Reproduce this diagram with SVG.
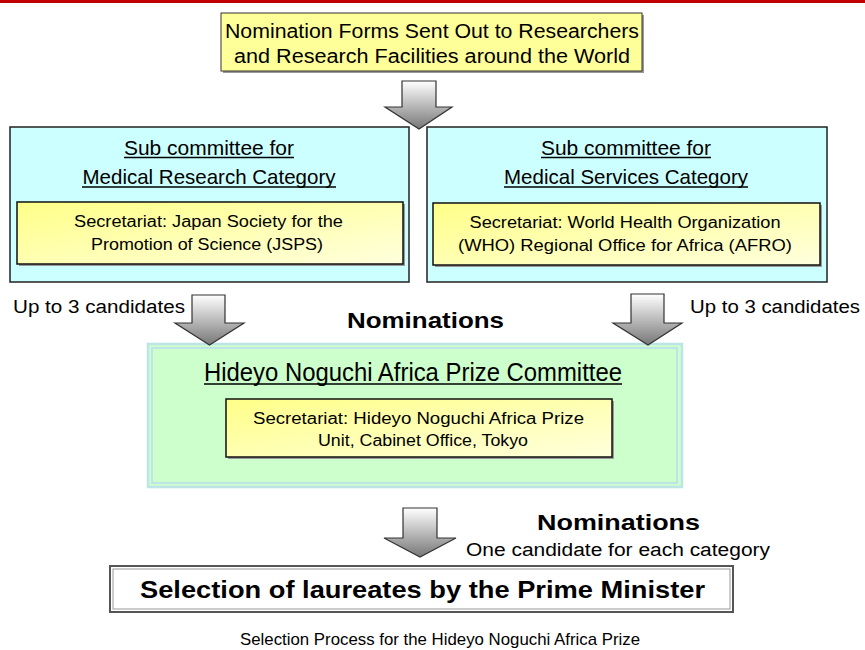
<svg xmlns="http://www.w3.org/2000/svg" width="865" height="650" viewBox="0 0 865 650">
<defs>
<linearGradient id="arrowGrad" x1="0" y1="0" x2="0" y2="1">
<stop offset="0" stop-color="#ffffff"/>
<stop offset="1" stop-color="#777777"/>
</linearGradient>
<linearGradient id="yelGrad" x1="0" y1="0" x2="1" y2="1">
<stop offset="0" stop-color="#ffff88"/>
<stop offset="1" stop-color="#ffffdd"/>
</linearGradient>
<style>
.arrow{fill:url(#arrowGrad);stroke:#333;stroke-width:1.2;stroke-linejoin:miter}
.sub{fill:#ccffff;stroke:#222;stroke-width:1.5}
.sec{fill:url(#yelGrad);stroke:#111;stroke-width:1.5}
.shadow{fill:#999}
.narrow{font-family:"Liberation Sans Narrow","Liberation Sans",Arial,sans-serif;fill:#000}
.reg{font-family:"Liberation Sans",Arial,sans-serif;fill:#000}
.bold{font-family:"Liberation Sans",Arial,sans-serif;font-weight:bold;fill:#000}
.ul{stroke:#000;stroke-width:1.3}
</style>
</defs>
<rect x="0" y="0" width="865" height="3" fill="#c00000"/>

<g id="top">
<rect x="223" y="15" width="421" height="58" class="shadow"/>
<rect x="221" y="13" width="421" height="58" fill="#ffff99" stroke="#333" stroke-width="1"/>
<text class="narrow" x="432" y="38" font-size="19.5" text-anchor="middle" textLength="414" lengthAdjust="spacingAndGlyphs">Nomination Forms Sent Out to Researchers</text>
<text class="narrow" x="432" y="63" font-size="19.5" text-anchor="middle" textLength="396" lengthAdjust="spacingAndGlyphs">and Research Facilities around the World</text>
</g>

<g id="sub-research">
<rect x="10" y="127" width="399" height="155" class="sub"/>
<text class="narrow" x="209" y="155" font-size="21" text-anchor="middle" textLength="170" lengthAdjust="spacingAndGlyphs">Sub committee  for</text>
<line x1="124" y1="157.5" x2="294" y2="157.5" class="ul"/>
<text class="narrow" x="209" y="184" font-size="21" text-anchor="middle" textLength="253" lengthAdjust="spacingAndGlyphs">Medical Research  Category</text>
<line x1="82" y1="187" x2="336" y2="187" class="ul"/>
<rect x="19" y="204" width="386" height="62" class="shadow"/>
<rect x="17" y="202" width="386" height="62" class="sec"/>
<text class="reg" x="208.5" y="227" font-size="16" text-anchor="middle" textLength="269" lengthAdjust="spacingAndGlyphs">Secretariat: Japan Society for the</text>
<text class="reg" x="207" y="250" font-size="16" text-anchor="middle" textLength="232" lengthAdjust="spacingAndGlyphs">Promotion  of Science (JSPS)</text>
</g>

<g id="sub-services">
<rect x="427" y="127" width="400" height="155" class="sub"/>
<text class="narrow" x="626" y="155" font-size="21" text-anchor="middle" textLength="170" lengthAdjust="spacingAndGlyphs">Sub committee  for</text>
<line x1="541" y1="157.5" x2="711" y2="157.5" class="ul"/>
<text class="narrow" x="626" y="184" font-size="21" text-anchor="middle" textLength="244" lengthAdjust="spacingAndGlyphs">Medical Services  Category</text>
<line x1="504" y1="187" x2="748" y2="187" class="ul"/>
<rect x="435" y="205" width="387" height="62" class="shadow"/>
<rect x="433" y="203" width="387" height="62" class="sec"/>
<text class="reg" x="625" y="228" font-size="16" text-anchor="middle" textLength="311" lengthAdjust="spacingAndGlyphs">Secretariat: World Health Organization</text>
<text class="reg" x="625" y="251" font-size="16" text-anchor="middle" textLength="334" lengthAdjust="spacingAndGlyphs">(WHO) Regional Office for Africa (AFRO)</text>
</g>

<g id="committee">
<rect x="148" y="344" width="534" height="143" fill="#ccffcc" stroke="#bfe4e8" stroke-width="2.5"/>
<rect x="152" y="348" width="525" height="135" fill="none" stroke="#bfe4e8" stroke-width="2"/>
<text class="narrow" x="413" y="381" font-size="26" text-anchor="middle" textLength="418" lengthAdjust="spacingAndGlyphs">Hideyo Noguchi Africa Prize Committee</text>
<line x1="204" y1="384" x2="622" y2="384" class="ul"/>
<rect x="228" y="401" width="386" height="58" class="shadow"/>
<rect x="226" y="399" width="386" height="58" class="sec"/>
<text class="reg" x="418.5" y="424" font-size="16" text-anchor="middle" textLength="331" lengthAdjust="spacingAndGlyphs">Secretariat: Hideyo Noguchi Africa Prize</text>
<text class="reg" x="423" y="446" font-size="16" text-anchor="middle" textLength="210" lengthAdjust="spacingAndGlyphs">Unit, Cabinet Office, Tokyo</text>
</g>

<g id="laureates">
<rect x="110" y="566" width="623" height="46" fill="#ffffff" stroke="#555" stroke-width="2"/>
<rect x="113" y="569" width="617" height="40" fill="none" stroke="#999" stroke-width="1"/>
<text class="bold" x="422.5" y="598" font-size="24" text-anchor="middle" textLength="565" lengthAdjust="spacingAndGlyphs">Selection of laureates by the Prime Minister</text>
</g>

<g id="connectors">
<path class="arrow" d="M402,81 L436,81 L436,107 L452,107 L419,129 L385,107 L402,107 Z"/>
<path class="arrow" d="M192,295 L225,295 L225,323 L244,323 L209.5,345 L175,323 L192,323 Z"/>
<path class="arrow" d="M631,294 L664,294 L664,323 L682,323 L648,345 L613,323 L631,323 Z"/>
<path class="arrow" d="M403,508 L437,508 L437,538 L456,538 L420,557 L384,538 L403,538 Z"/>
</g>

<g id="labels">
<text class="reg" x="13" y="313" font-size="18" textLength="172" lengthAdjust="spacingAndGlyphs">Up to 3 candidates</text>
<text class="reg" x="690" y="313" font-size="18" textLength="170" lengthAdjust="spacingAndGlyphs">Up to 3 candidates</text>
<text class="bold" x="347" y="328" font-size="22" textLength="157" lengthAdjust="spacingAndGlyphs">Nominations</text>
<text class="bold" x="537" y="530" font-size="22" textLength="163" lengthAdjust="spacingAndGlyphs">Nominations</text>
<text class="narrow" x="466" y="556" font-size="18" textLength="304" lengthAdjust="spacingAndGlyphs">One candidate for each category</text>
<text class="narrow" x="440" y="645" font-size="17" text-anchor="middle" textLength="400" lengthAdjust="spacingAndGlyphs" fill="#333">Selection Process for the Hideyo Noguchi Africa Prize</text>
</g>
</svg>
